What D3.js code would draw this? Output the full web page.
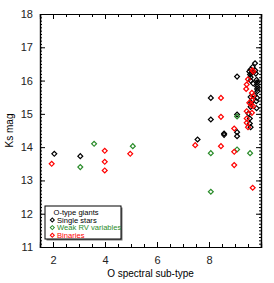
<!DOCTYPE html>
<html>
<head>
<meta charset="utf-8">
<script src="https://cdn.jsdelivr.net/npm/d3@7"></script>
<style>
  body { margin: 0; background: #fff; }
  text { font-family: "Liberation Sans", Helvetica, Arial, sans-serif; }
</style>
</head>
<body>
<div id="chart"></div>
<script>
// spectral sub-type, Ks mag
var singleX = [2.05, 3.05, 7.56, 8.07, 8.07, 8.58, 8.58, 9.08, 9.08, 9.08, 9.08,
    9.77, 9.68, 9.6, 9.55, 9.62, 9.58, 9.78, 9.8, 9.6, 9.6, 9.83, 9.85, 9.85, 9.85, 9.85, 9.86,
    9.7, 9.75, 9.6, 9.85, 9.62, 9.82, 9.6, 9.83, 9.52, 9.57, 9.57, 9.6];
var singleY = [13.8, 13.73, 14.23, 15.48, 14.83, 14.41, 14.37, 16.12, 14.98, 14.45, 14.33,
    16.52, 16.41, 16.33, 16.27, 16.22, 16.18, 16.3, 16.21, 16.1, 16.0, 16.02, 15.95, 15.88, 15.82, 15.75, 15.68,
    15.91, 15.56, 15.51, 15.48, 15.33, 15.38, 15.21, 15.17, 15.01, 14.86, 14.71, 14.6];

var weakX = [3.05, 3.58, 5.07, 8.07, 9.08, 9.08, 9.58, 8.07];
var weakY = [13.4, 14.1, 14.03, 13.82, 14.92, 13.93, 13.82, 12.66];

var binX = [1.95, 3.99, 3.99, 3.99, 4.97, 7.47, 8.46, 8.46, 8.46, 8.97, 8.97, 8.97, 9.68,
    9.7, 9.67, 9.5, 9.45, 9.43, 9.65, 9.7, 9.65, 9.55, 9.62, 9.7, 9.45, 9.65, 9.45, 9.45, 9.5];
var binY = [13.5, 13.89, 13.56, 13.3, 13.8, 14.06, 15.48, 14.91, 14.03, 14.56, 13.86, 13.46, 12.78,
    16.27, 16.31, 16.04, 15.88, 15.75, 15.63, 15.53, 15.42, 15.33, 15.27, 15.23, 15.08, 15.03, 14.86, 14.73, 14.6];

var xTicks = [2, 4, 6, 8];
var yTicks = [11, 12, 13, 14, 15, 16, 17, 18];

var legendLabels = ["Single stars", "Weak RV variables", "Binaries"];
var legendColors = ["#000000", "#2a8c2a", "#ff0000"];

var width = 274, height = 283;
var margin = { left: 40, right: 261, top: 14, bottom: 247 };

var svg = d3.select("#chart").append("svg")
    .attr("width", width)
    .attr("height", height);

var xScale = d3.scaleLinear().domain([1.5, 10]).range([margin.left, margin.right]);
var yScale = d3.scaleLinear().domain([11, 18]).range([margin.bottom, margin.top]);

var xMinor = d3.range(1.5, 10.01, 0.5);
var yMinor = d3.range(11, 18.001, 0.1);

// axes: bottom, top, left, right
svg.append("g")
    .attr("transform", "translate(0," + margin.bottom + ")")
    .call(d3.axisBottom(xScale).tickValues(xMinor).tickSize(-3).tickFormat(""));
svg.append("g")
    .attr("class", "x axis")
    .attr("transform", "translate(0," + margin.bottom + ")")
    .call(d3.axisBottom(xScale).tickValues(xTicks).tickSize(-5).tickPadding(9).tickFormat(d3.format("d")));
svg.append("g")
    .attr("transform", "translate(0," + margin.top + ")")
    .call(d3.axisTop(xScale).tickValues(xMinor).tickSize(-3).tickFormat(""));
svg.append("g")
    .attr("transform", "translate(0," + margin.top + ")")
    .call(d3.axisTop(xScale).tickValues(xTicks).tickSize(-5).tickFormat(""));

svg.append("g")
    .attr("transform", "translate(" + margin.left + ",0)")
    .call(d3.axisLeft(yScale).tickValues(yMinor).tickSize(-2).tickFormat(""));
svg.append("g")
    .attr("class", "y axis")
    .attr("transform", "translate(" + margin.left + ",0)")
    .call(d3.axisLeft(yScale).tickValues(yTicks).tickSize(-5).tickPadding(7).tickFormat(d3.format("d")));
svg.append("g")
    .attr("transform", "translate(" + margin.right + ",0)")
    .call(d3.axisRight(yScale).tickValues(yMinor).tickSize(-2).tickFormat(""));
svg.append("g")
    .attr("transform", "translate(" + margin.right + ",0)")
    .call(d3.axisRight(yScale).tickValues(yTicks).tickSize(-5).tickFormat(""));

svg.selectAll(".domain").attr("stroke", "#000").attr("stroke-width", 1.2);
svg.selectAll(".tick line").attr("stroke", "#000");
svg.selectAll(".tick text").attr("font-size", 11).attr("fill", "#222");

svg.append("text")
    .attr("transform", "translate(13," + (margin.top + margin.bottom) / 2 + ") rotate(-90)")
    .attr("text-anchor", "middle")
    .attr("font-size", 10)
    .text("Ks mag");

svg.append("text")
    .attr("x", (margin.left + margin.right) / 2)
    .attr("y", 277)
    .attr("text-anchor", "middle")
    .attr("font-size", 10)
    .text("O spectral sub-type");

var diamond = d3.symbol().type(d3.symbolSquare).size(12);

function drawSeries(xs, ys, color) {
    svg.append("g").selectAll("path")
        .data(xs.map(function (d, i) { return [d, ys[i]]; }))
        .enter()
        .append("path")
        .attr("d", diamond)
        .attr("transform", function (d) { return "translate(" + xScale(d[0]) + "," + yScale(d[1]) + ") rotate(45)"; })
        .attr("fill", "none")
        .attr("stroke", color)
        .attr("stroke-width", 1.2);
}

drawSeries(singleX, singleY, legendColors[0]);
drawSeries(weakX, weakY, legendColors[1]);
drawSeries(binX, binY, legendColors[2]);

// legend
var lg = svg.append("g").attr("transform", "translate(45,206)");
lg.append("rect").attr("x", 1.5).attr("y", 1.5).attr("width", 76).attr("height", 33)
    .attr("fill", "#777");
lg.append("rect").attr("x", 0).attr("y", 0).attr("width", 76).attr("height", 33)
    .attr("fill", "#fff").attr("stroke", "#000").attr("stroke-width", 1);
lg.append("text").attr("x", 8.5).attr("y", 8.8).attr("font-size", 7.6).text("O-type giants");
legendLabels.forEach(function (name, i) {
    var yy = 16.6 + i * 7.6;
    lg.append("path").attr("d", d3.symbol().type(d3.symbolSquare).size(8))
        .attr("transform", "translate(7.3," + (yy - 2.6) + ") rotate(45)")
        .attr("fill", "none").attr("stroke", legendColors[i]).attr("stroke-width", 1);
    lg.append("text").attr("x", 12).attr("y", yy).attr("font-size", 7.6)
        .attr("fill", legendColors[i]).text(name);
});
</script>
</body>
</html>
